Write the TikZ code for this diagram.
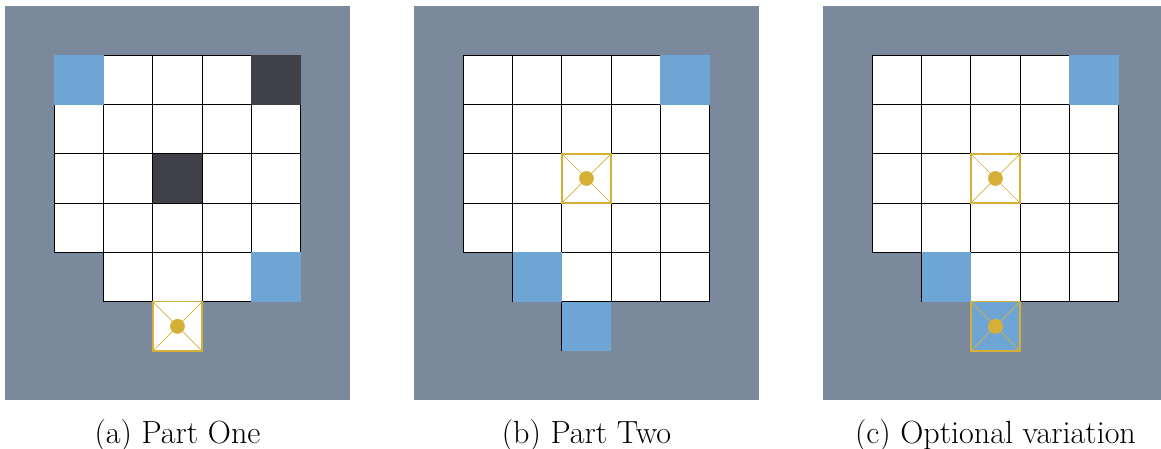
\documentclass[tikz,border=0pt]{standalone}
\usepackage{tikz}
\usetikzlibrary{positioning}
\definecolor{gridslate}{RGB}{122, 137, 155}
\definecolor{gridblue}{RGB}{111, 165, 212}
\definecolor{griddark}{RGB}{64, 65, 72}
\definecolor{gridgold}{RGB}{214, 176, 54}

\tikzset{
  cellbox/.style={draw=black, line width=0.5pt, fill=white},
  goalcell/.style={draw=gridgold, line width=0.9pt, minimum size=1cm, inner sep=0pt, outer sep=0pt},
  caption/.style={anchor=base, font=\fontsize{18.5}{22}\selectfont}
}

\begin{document}
\begin{tikzpicture}[yscale=-1]
  \useasboundingbox (-0.1,-0.12) rectangle (23.45,8.97);

  % (a) Part One
  \begin{scope}
    \fill[gridslate] (0,0) rectangle (7,8);
    \foreach \x in {1,...,5}
      \foreach \y in {1,...,4}
        \draw[cellbox] (\x,\y) rectangle ++(1,1);
    \foreach \x in {2,...,5}
      \draw[cellbox] (\x,5) rectangle ++(1,1);
    \fill[gridblue] (1,1) rectangle ++(1,1);
    \fill[gridblue] (5,5) rectangle ++(1,1);
    \fill[griddark] (5,1) rectangle ++(1,1);
    \fill[griddark] (3,3) rectangle ++(1,1);
    \node[goalcell, fill=white] (goalA) at (3.5,6.5) {};
    \draw[gridgold, line width=0.4pt] (goalA.north west) -- (goalA.south east);
    \draw[gridgold, line width=0.4pt] (goalA.north east) -- (goalA.south west);
    \fill[gridgold] (goalA.center) circle (0.15);
    \node[caption] (capA) at (3.5,8.87) {(a) Part One};
  \end{scope}

  % (b) Part Two
  \begin{scope}[xshift=8.296cm]
    \fill[gridslate] (0,0) rectangle (7,8);
    \foreach \x in {1,...,5}
      \foreach \y in {1,...,4}
        \draw[cellbox] (\x,\y) rectangle ++(1,1);
    \foreach \x in {2,...,5}
      \draw[cellbox] (\x,5) rectangle ++(1,1);
    \draw[black, line width=0.5pt] (3,6) -- (3,7);
    \fill[gridblue] (5,1) rectangle ++(1,1);
    \fill[gridblue] (2,5) rectangle ++(1,1);
    \fill[gridblue] (3,6) rectangle ++(1,1);
    \node[goalcell, fill=white] (goalB) at (3.5,3.5) {};
    \draw[gridgold, line width=0.4pt] (goalB.north west) -- (goalB.south east);
    \draw[gridgold, line width=0.4pt] (goalB.north east) -- (goalB.south west);
    \fill[gridgold] (goalB.center) circle (0.15);
    \node[caption] (capB) at (3.5,8.87) {(b) Part Two};
  \end{scope}

  % (c) Optional variation
  \begin{scope}[xshift=16.592cm]
    \fill[gridslate] (0,0) rectangle (7,8);
    \foreach \x in {1,...,5}
      \foreach \y in {1,...,4}
        \draw[cellbox] (\x,\y) rectangle ++(1,1);
    \foreach \x in {2,...,5}
      \draw[cellbox] (\x,5) rectangle ++(1,1);
    \fill[gridblue] (5,1) rectangle ++(1,1);
    \fill[gridblue] (2,5) rectangle ++(1,1);
    \node[goalcell, fill=white] (goalC) at (3.5,3.5) {};
    \draw[gridgold, line width=0.4pt] (goalC.north west) -- (goalC.south east);
    \draw[gridgold, line width=0.4pt] (goalC.north east) -- (goalC.south west);
    \fill[gridgold] (goalC.center) circle (0.15);
    \node[goalcell, fill=gridblue] (exitC) at (3.5,6.5) {};
    \draw[gridgold, line width=0.4pt] (exitC.north west) -- (exitC.south east);
    \draw[gridgold, line width=0.4pt] (exitC.north east) -- (exitC.south west);
    \fill[gridgold] (exitC.center) circle (0.15);
    \node[caption] (capC) at (3.5,8.87) {(c) Optional variation};
  \end{scope}
\end{tikzpicture}
\end{document}
